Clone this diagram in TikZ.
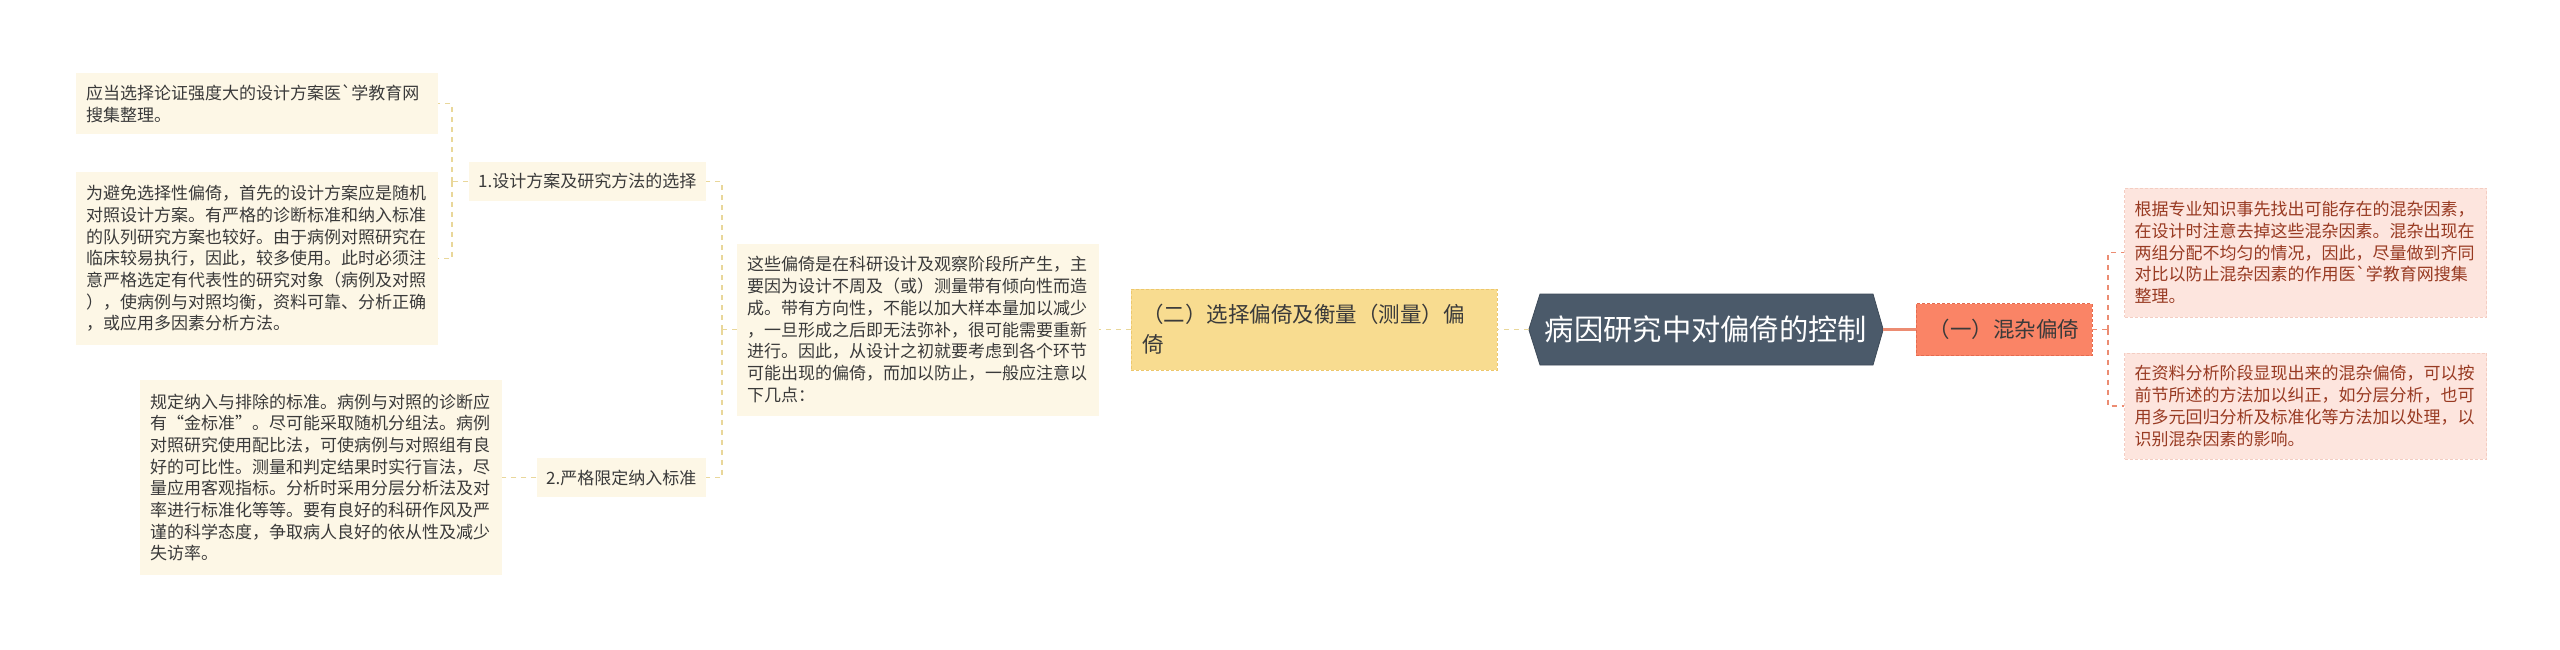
\documentclass[tikz,border=0pt]{standalone}
\usepackage{fontspec}
\newfontfamily\cjk{Noto Sans CJK SC}
\usetikzlibrary{backgrounds}
\definecolor{cream}{HTML}{FDF7E6}
\definecolor{leaftext}{HTML}{3A3A3A}
\definecolor{goldfill}{HTML}{F8DC90}
\definecolor{goldline}{HTML}{EDC76C}
\definecolor{rootfill}{HTML}{4B5A6A}
\definecolor{rootline}{HTML}{3E4B59}
\definecolor{salfill}{HTML}{FA8466}
\definecolor{salline}{HTML}{E56B4F}
\definecolor{pinkfill}{HTML}{FDE5DE}
\definecolor{pinkline}{HTML}{F4CDC2}
\definecolor{pinktext}{HTML}{983A22}
\definecolor{yconn}{HTML}{E9D79A}
\definecolor{sconn}{HTML}{EC8C72}
\begin{document}
\begin{tikzpicture}[x=1pt,y=-1pt,
  leaf/.style={fill=cream, text=leaftext, text width=342pt, inner xsep=10pt, inner ysep=0pt,
    align=left, font=\cjk\fontsize{17}{21.7}\selectfont},
  pinkleaf/.style={leaf, fill=pinkfill, text=pinktext, draw=pinkline, dash pattern=on 3pt off 2pt, line width=0.8pt},
  subnode/.style={fill=cream, text=leaftext, inner xsep=9.5pt, inner ysep=0pt, minimum height=39pt,
    anchor=east, font=\cjk\fontsize{17}{21.7}\selectfont},
  mainnode/.style={inner sep=0pt, font=\cjk\fontsize{21.5}{30}\selectfont, text=leaftext},
  rootnode/.style={inner sep=0pt, minimum width=354pt, minimum height=71pt, text=white,
    font=\cjk\fontsize{29.3}{35}\selectfont},
  yline/.style={draw=yconn, line width=1.5pt, dash pattern=on 5pt off 5pt},
  sline/.style={draw=sconn, line width=1.5pt, dash pattern=on 5pt off 5pt}
]
\useasboundingbox (0,0) rectangle (2560,649);

% root
\node[rootnode] (root) at (1706,329.5) {病因研究中对偏倚的控制};
\begin{scope}[on background layer]
\fill[white] (0,0) rectangle (2560,649);
\filldraw[fill=rootfill, draw=rootline, line width=0.8pt]
  (root.west) -- (1540,294) -- (1873,294) -- (root.east) -- (1873,365) -- (1540,365) -- cycle;
\end{scope}

% level 1
\node[mainnode, fill=goldfill, draw=goldline, dash pattern=on 3pt off 2pt, line width=0.8pt,
  text width=344pt, inner xsep=11pt, align=left, minimum height=81pt] (two) at (1314,329.5)
  {（二）选择偏倚及衡量（测量）偏\\倚};
\node[mainnode, fill=salfill, draw=salline, dash pattern=on 3pt off 2pt, line width=0.8pt,
  minimum width=176pt, minimum height=52pt, text=leaftext] (one) at (2004,329.5) {（一）混杂偏倚};

% right leaves
\node[pinkleaf, minimum height=129pt] (E) at (2305.5,252.5)
  {根据专业知识事先找出可能存在的混杂因素，\\在设计时注意去掉这些混杂因素。混杂出现在\\两组分配不均匀的情况，因此，尽量做到齐同\\对比以防止混杂因素的作用医`学教育网搜集\\整理。};
\node[pinkleaf, minimum height=106pt] (F) at (2305.5,406)
  {在资料分析阶段显现出来的混杂偏倚，可以按\\前节所述的方法加以纠正，如分层分析，也可\\用多元回归分析及标准化等方法加以处理，以\\识别混杂因素的影响。};

% level 2 left
\node[leaf, text width=342pt, minimum height=172pt] (D) at (918,329.5)
  {这些偏倚是在科研设计及观察阶段所产生，主\\要因为设计不周及（或）测量带有倾向性而造\\成。带有方向性，不能以加大样本量加以减少\\，一旦形成之后即无法弥补，很可能需要重新\\进行。因此，从设计之初就要考虑到各个环节\\可能出现的偏倚，而加以防止，一般应注意以\\下几点：};
\node[subnode] (n1) at (706,181.5) {1.设计方案及研究方法的选择};
\node[subnode] (n2) at (706,477.5) {2.严格限定纳入标准};

\node[leaf, minimum height=61pt] (A) at (257,103.5)
  {应当选择论证强度大的设计方案医`学教育网\\搜集整理。};
\node[leaf, minimum height=173pt] (B) at (257,258.5)
  {为避免选择性偏倚，首先的设计方案应是随机\\对照设计方案。有严格的诊断标准和纳入标准\\的队列研究方案也较好。由于病例对照研究在\\临床较易执行，因此，较多使用。此时必须注\\意严格选定有代表性的研究对象（病例及对照\\），使病例与对照均衡，资料可靠、分析正确\\，或应用多因素分析方法。};
\node[leaf, minimum height=195pt] (C) at (321,477.5)
  {规定纳入与排除的标准。病例与对照的诊断应\\有“金标准”。尽可能采取随机分组法。病例\\对照研究使用配比法，可使病例与对照组有良\\好的可比性。测量和判定结果时实行盲法，尽\\量应用客观指标。分析时采用分层分析法及对\\率进行标准化等等。要有良好的科研作风及严\\谨的科学态度，争取病人良好的依从性及减少\\失访率。};

% junctions
\coordinate (j1) at (452,181.5);
\coordinate (j2) at (722,329.5);
\coordinate (j3) at (2108,329.5);

% connectors
\draw[yline] (root.west) -- (two.east);
\draw[yline] (two.west) -- (D.east);
\draw[yline] (D.west) -- (j2);
\draw[yline] (j2) |- (n1.east);
\draw[yline] (j2) |- (n2.east);
\draw[yline] (n1.west) -- (j1);
\draw[yline] (j1) |- (A.east);
\draw[yline] (j1) |- (B.east);
\draw[yline] (n2.west) -- (C.east);

\draw[draw=sconn, line width=2.5pt] (root.east) -- (one.west);
\draw[sline] (one.east) -- (j3);
\draw[sline] (j3) |- (E.west);
\draw[sline] (j3) |- (F.west);
\end{tikzpicture}
\end{document}
